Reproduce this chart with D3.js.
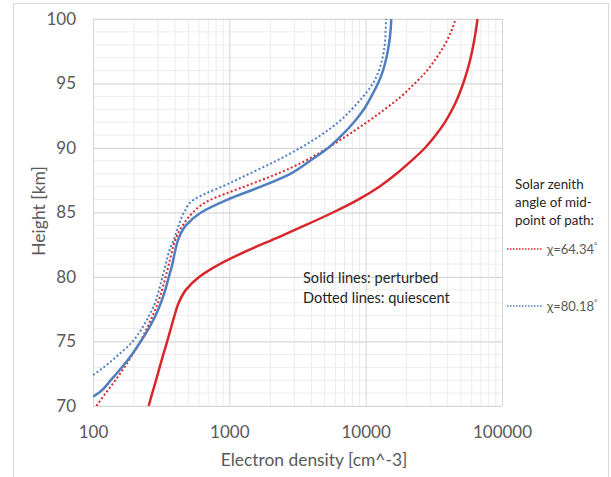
<!DOCTYPE html>
<html>
<head>
<meta charset="utf-8">
<script src="https://cdn.jsdelivr.net/npm/d3@7"></script>
<style>
  body { margin: 0; background: #fff; }
  svg { display: block; font-family: Lato, "Open Sans", sans-serif; }
</style>
</head>
<body>
<svg width="611" height="477"></svg>
<script>
// heights in km, electron density in cm^-3
let hRedSolid = [70,71,72,73,74,75,76,77,78,79,80,81,82,83,84,85,86,87,88,89,90,91,92,93,94,95,96,97,98,99,100];
let nRedSolid = [256,272,290,308,328,350,372,396,425,480,600,850,1330,2190,3590,5750,8810,12600,16800,21600,27200,32700,38200,43200,47800,51900,55600,58900,61700,64100,66100];

let hRedDot = [70,71,72,73,74,75,76,77,78,79,80,81,82,83,84,85,85.5,86,86.5,87,88,89,90,91,92,93,94,95,96,97,98,99,100];
let nRedDot = [106,124,146,170,195,222,248,274,299,321,341,360,380,405,455,540,610,730,960,1280,2250,3600,5250,7400,10200,13800,18200,22900,28200,33100,38000,42200,45700];

let hBlueSolid = [70.72,71,72,73,74,75,76,77,78,79,80,81,82,83,84,85,86,87,88,89,90,91,92,93,94,95,96,97,98,99,100];
let nBlueSolid = [100,110,135,163,193,224,256,287,315,339,360,382,400,425,480,620,970,1700,2800,3900,5300,6700,8200,9700,11000,12300,13400,14200,14800,15200,15400];

let hBlueDot = [72.4,73,74,75,76,77,78,79,80,81,82,83,84,85,86,86.5,87,88,89,90,91,92,93,94,95,96,97,98,99,100];
let nBlueDot = [100,120,155,195,228,258,285,305,323,342,362,395,425,465,550,680,880,1400,2200,3300,4700,6300,7900,9600,11300,12500,13300,13800,14000,14100];

let xTicks = [100, 1000, 10000, 100000];
let yTicks = [70, 75, 80, 85, 90, 95, 100];

let red = "#d9262b";
let blue = "#4f7fbf";
let textGray = "#595959";

let svg = d3.select("svg");

// outer chart frame
svg.append("rect")
  .attr("x", 13.5).attr("y", 3.5)
  .attr("width", 595).attr("height", 490)
  .attr("fill", "none").attr("stroke", "#d9d9d9");

let margin = { left: 93, right: 502, top: 19, bottom: 406 };

let x = d3.scaleLog().domain([100, 100000]).range([margin.left, margin.right]);
let y = d3.scaleLinear().domain([70, 100]).range([margin.bottom, margin.top]);

// minor grid
let minorX = [];
for (let d = 100; d < 100000; d *= 10) {
  for (let k = 2; k <= 9; k++) minorX.push(d * k);
}
let minorY = d3.range(70, 101, 1);

let grid = svg.append("g");
grid.selectAll("line.mx").data(minorX).enter().append("line")
  .attr("x1", d => x(d)).attr("x2", d => x(d))
  .attr("y1", margin.top).attr("y2", margin.bottom)
  .attr("stroke", "#ececec");
grid.selectAll("line.my").data(minorY).enter().append("line")
  .attr("y1", d => y(d)).attr("y2", d => y(d))
  .attr("x1", margin.left).attr("x2", margin.right)
  .attr("stroke", "#ececec");

// major grid via axes
let xGrid = svg.append("g")
  .attr("transform", "translate(0," + margin.top + ")")
  .call(d3.axisBottom(x).tickValues(xTicks).tickSize(margin.bottom - margin.top).tickFormat(""));
let yGrid = svg.append("g")
  .attr("transform", "translate(" + margin.left + ",0)")
  .call(d3.axisRight(y).tickValues(yTicks).tickSize(margin.right - margin.left).tickFormat(""));
[xGrid, yGrid].forEach(g => {
  g.select(".domain").remove();
  g.selectAll("line").attr("stroke", "#d6d6d6");
});

// axis labels
let xAxis = svg.append("g")
  .attr("transform", "translate(0," + margin.bottom + ")")
  .call(d3.axisBottom(x).tickValues(xTicks).tickSize(0).tickPadding(20).tickFormat(d3.format("d")));
let yAxis = svg.append("g")
  .attr("transform", "translate(" + margin.left + ",0)")
  .call(d3.axisLeft(y).tickValues(yTicks).tickSize(0).tickPadding(17));
[xAxis, yAxis].forEach(g => {
  g.select(".domain").remove();
  g.selectAll("text").attr("fill", textGray).style("font-size", "17px").style("font-family", "Lato, sans-serif");
});

svg.append("text")
  .attr("transform", "translate(45,211) rotate(-90)")
  .attr("text-anchor", "middle")
  .attr("fill", textGray).style("font-size", "17.5px")
  .text("Height [km]");

svg.append("text")
  .attr("x", 314).attr("y", 466)
  .attr("text-anchor", "middle")
  .attr("fill", textGray).style("font-size", "17.4px")
  .text("Electron density [cm^-3]");

// curves
svg.append("clipPath").attr("id", "plotclip")
  .append("rect").attr("x", margin.left).attr("y", margin.top - 2)
  .attr("width", margin.right - margin.left).attr("height", margin.bottom - margin.top + 2);

let line = d3.line()
  .x(d => x(d[1]))
  .y(d => y(d[0]))
  .curve(d3.curveMonotoneY);

let series = [
  { h: hBlueDot, n: nBlueDot, color: blue, dash: "2,2.3", w: 2 },
  { h: hRedDot, n: nRedDot, color: red, dash: "2,2.3", w: 2 },
  { h: hBlueSolid, n: nBlueSolid, color: blue, dash: null, w: 2.5 },
  { h: hRedSolid, n: nRedSolid, color: red, dash: null, w: 2.5 }
];

let plot = svg.append("g").attr("clip-path", "url(#plotclip)");
series.forEach(s => {
  plot.append("path")
    .datum(d3.zip(s.h, s.n))
    .attr("d", line)
    .attr("fill", "none")
    .attr("stroke", s.color)
    .attr("stroke-width", s.w)
    .attr("stroke-dasharray", s.dash);
});

// annotation
let note = svg.append("g").style("font-size", "14.6px").attr("fill", "#262626");
note.append("text").attr("x", 303).attr("y", 283).text("Solid lines: perturbed");
note.append("text").attr("x", 303).attr("y", 303).text("Dotted lines: quiescent");

// legend
let leg = svg.append("g").style("font-size", "13.4px").attr("fill", "#262626");
leg.append("text").attr("x", 515).attr("y", 189).text("Solar zenith");
leg.append("text").attr("x", 515).attr("y", 207).text("angle of mid-");
leg.append("text").attr("x", 515).attr("y", 225).text("point of path:");

let legItems = [
  { label: "χ=64.34", color: red, yPos: 249 },
  { label: "χ=80.18", color: blue, yPos: 306 }
];
legItems.forEach(it => {
  leg.append("line")
    .attr("x1", 507).attr("x2", 543)
    .attr("y1", it.yPos).attr("y2", it.yPos)
    .attr("stroke", it.color).attr("stroke-width", 1.5)
    .attr("stroke-dasharray", "1.5,1.5");
  let t = leg.append("text").attr("x", 547).attr("y", it.yPos + 5)
    .attr("fill", textGray).style("font-size", "13px").text(it.label);
  t.append("tspan").attr("dy", -6).style("font-size", "8px").text("°");
});
</script>
</body>
</html>
